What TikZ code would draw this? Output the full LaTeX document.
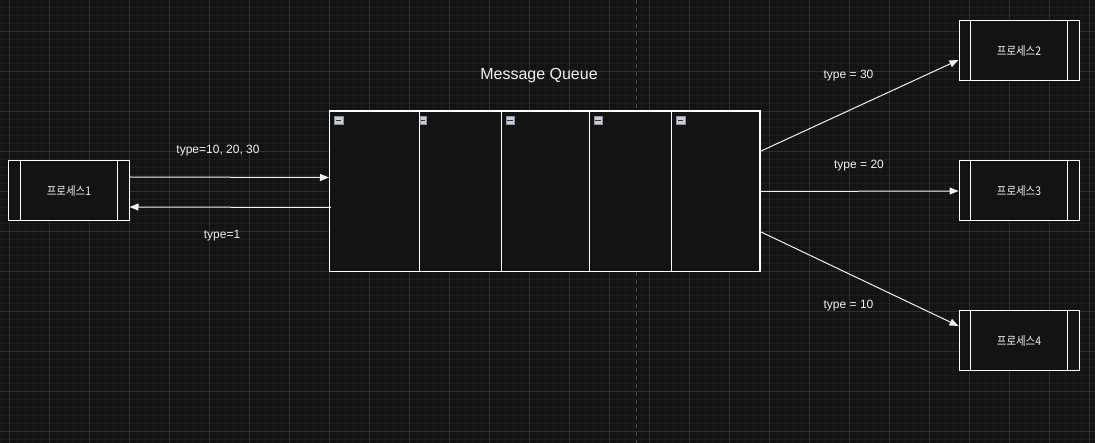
\documentclass[tikz,border=0pt]{standalone}
\usepackage{fontspec}
\setmainfont{Liberation Sans}
\newfontfamily\krfont[FakeStretch=0.87]{Noto Sans CJK KR}
\usetikzlibrary{calc,arrows.meta}
\definecolor{bg}{HTML}{131313}
\definecolor{gridminor}{HTML}{1C1C1C}
\definecolor{gridmajor}{HTML}{2E2E2E}
\definecolor{guide}{HTML}{505050}
\definecolor{ink}{HTML}{F0F0F0}
\definecolor{iconfill}{HTML}{C9CDD4}
\definecolor{iconedge}{HTML}{8C929C}
\begin{document}
\begin{tikzpicture}[x=1bp,y=-1bp,
  proc/.style={draw=white,line width=1bp,fill=bg,minimum width=120bp,minimum height=60bp,inner sep=0pt,
    font=\krfont\fontsize{12bp}{14bp}\selectfont,text=ink},
  cell/.style={draw=white,line width=1bp,fill=bg,minimum height=160bp,inner sep=0pt,anchor=north west},
  lbl/.style={font=\fontsize{12bp}{14bp}\selectfont,text=ink,inner sep=0pt},
  conn/.style={draw=ink,line width=1bp,-{Triangle[length=9bp,width=7bp]}},
  icon/.style={draw=iconedge,line width=0.7bp,fill=iconfill,minimum size=8.5bp,inner sep=0pt,anchor=north west}
]
\useasboundingbox (0,0) rectangle (1095,443);
\fill[bg] (0,0) rectangle (1095,443);
% grid
\foreach \x in {1,9,...,1095} \draw[gridminor,line width=0.6bp] (\x,0) -- (\x,443);
\foreach \y in {7,15,...,443} \draw[gridminor,line width=0.6bp] (0,\y) -- (1095,\y);
\foreach \x in {9,49,...,1095} \draw[gridmajor,line width=0.8bp] (\x,0) -- (\x,443);
\foreach \y in {31,71,...,443} \draw[gridmajor,line width=0.8bp] (0,\y) -- (1095,\y);
\draw[guide,line width=0.8bp,dash pattern=on 4bp off 4bp] (636,0) -- (636,443);

% processes
\node[proc] (p1) at (69,191) {프로세스1};
\node[proc] (p2) at (1019,51) {프로세스2};
\node[proc] (p3) at (1019,191) {프로세스3};
\node[proc] (p4) at (1019,341) {프로세스4};
\foreach \p in {p1,p2,p3,p4} {
  \draw[white,line width=1bp] ($(\p.north west)+(12,0)$) -- ($(\p.south west)+(12,0)$);
  \draw[white,line width=1bp] ($(\p.north east)+(-12,0)$) -- ($(\p.south east)+(-12,0)$);
}

% queue cells
\node[cell,minimum width=90bp] (q1) at (329,111) {};
\node[cell,minimum width=81.5bp] (q2) at (419,111) {};
\node[cell,minimum width=88.5bp] (q3) at (500.5,111) {};
\node[cell,minimum width=82bp] (q4) at (589,111) {};
\node[cell,minimum width=88bp] (q5) at (671,111) {};
\draw[white,line width=1bp] (q1.north west) rectangle (q5.south east);

% icons
\foreach \q/\dx in {q1/5,q3/5,q4/4.5,q5/5} {
  \node[icon] (i\q) at ($(\q.north west)+(\dx,5)$) {};
  \draw[black!80,line width=1.3bp] ($(i\q.center)+(-2.7,0)$) -- ($(i\q.center)+(2.7,0)$);
}
\node[icon,minimum width=6.5bp,minimum height=8.5bp] (iq2) at ($(q2.north west)+(0.6,5)$) {};
\draw[black!80,line width=1.3bp] ($(iq2.center)+(-2,0)$) -- ($(iq2.center)+(2,0)$);
\draw[white,line width=1bp] (q2.north west) -- (q2.south west);

% title and labels
\node[font=\fontsize{16bp}{19bp}\selectfont,text=ink,inner sep=0pt] (title) at (539,76) {Message Queue};
\node[lbl] (l1) at (218,151) {type=10, 20, 30};
\node[lbl] (l2) at (222,236) {type=1};
\node[lbl] (l30) at (848.5,76) {type = 30};
\node[lbl] (l20) at (859,166) {type = 20};
\node[lbl] (l10) at (848.5,306) {type = 10};

% connectors
\draw[conn] ($(p1.east)+(0,-14)$) -- ($(q1.west)+(0,-14)$);
\draw[conn] ($(q1.west)+(2,16)$) -- ($(p1.east)+(0,16)$);
\draw[conn] ($(q5.east)+(0,-40)$) -- ($(p2.west)+(0,9)$);
\draw[conn] (q5.east) -- (p3.west);
\draw[conn] ($(q5.east)+(0,40)$) -- ($(p4.west)+(0,-15)$);
\end{tikzpicture}
\end{document}
